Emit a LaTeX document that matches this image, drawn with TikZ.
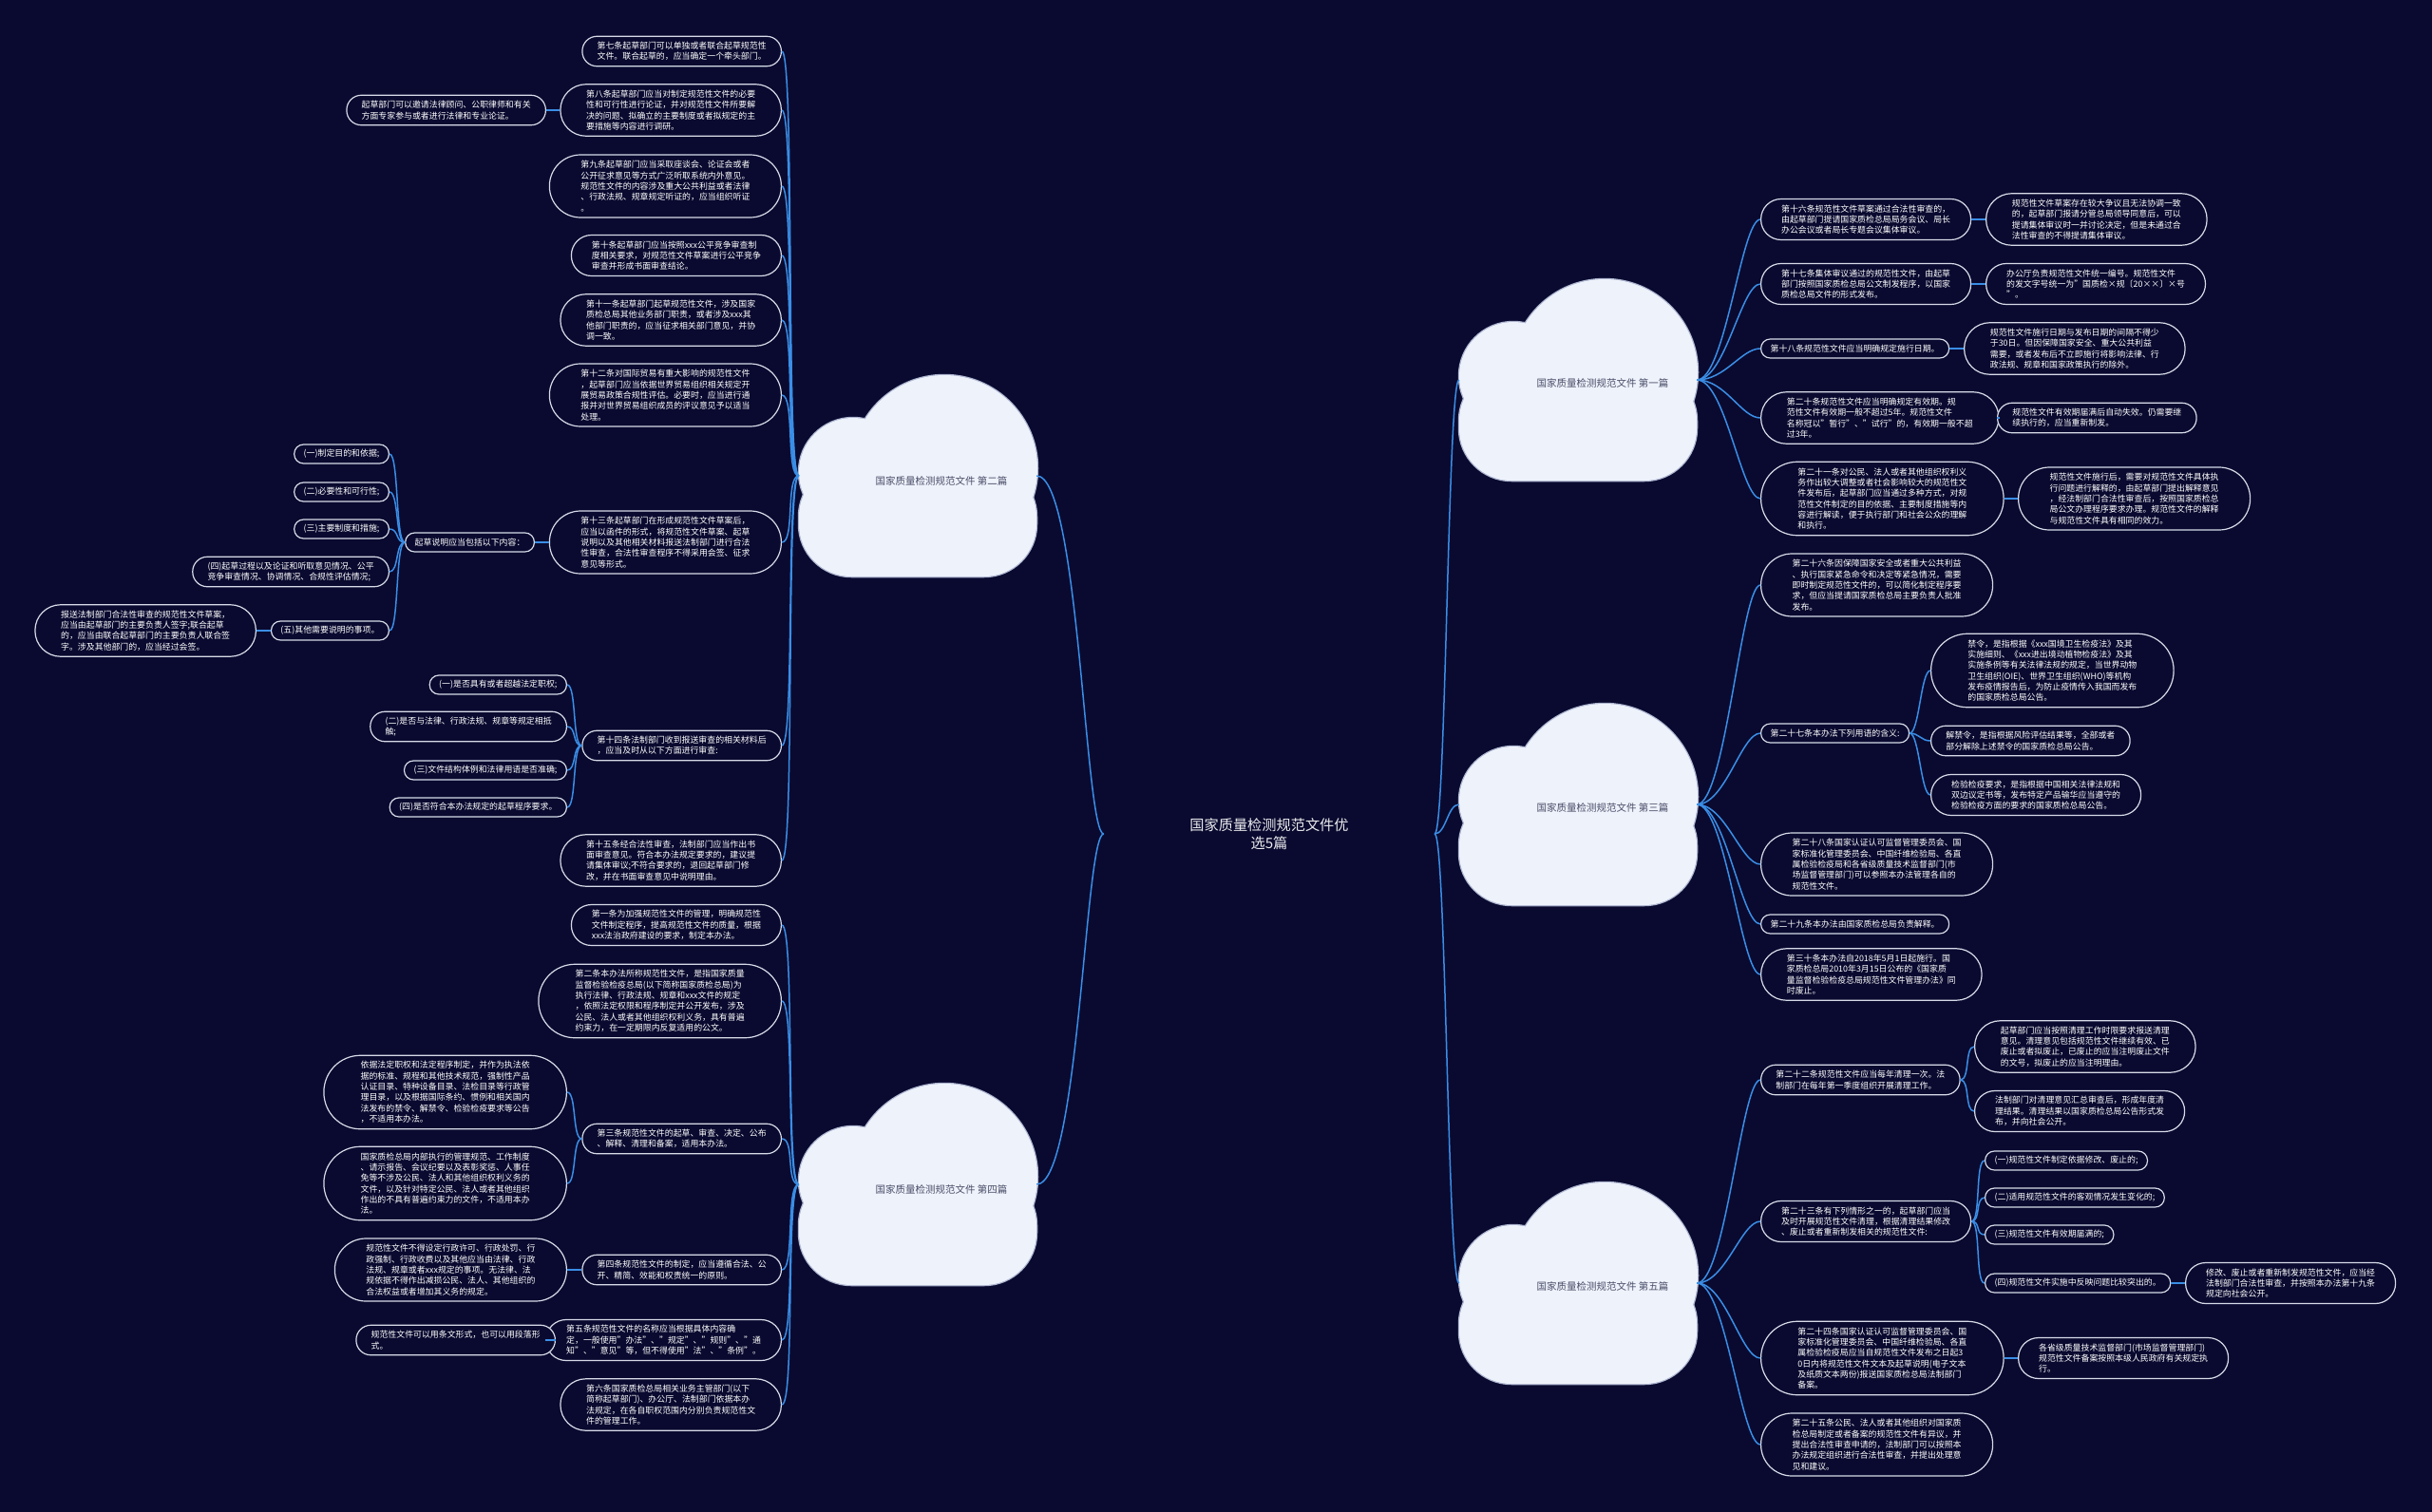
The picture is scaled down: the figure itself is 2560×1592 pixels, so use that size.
\documentclass[tikz,border=0pt]{standalone}
\usepackage{fontspec}
\setmainfont{Noto Sans CJK SC}
\definecolor{night}{HTML}{0A0A30}
\definecolor{wire}{HTML}{3A8EE6}
\definecolor{rim}{HTML}{D6DBE8}
\definecolor{puff}{HTML}{EEF2FB}
\definecolor{puffrim}{HTML}{AEB6D0}
\definecolor{ink}{HTML}{4A4E68}
\newcommand{\puff}[2]{%
  \begin{scope}[shift={(#1,#2)}]
    \draw[puffrim,line width=2.5pt,rounded corners=55pt] (-125,-12) rectangle (125,106);
    \draw[puffrim,line width=2.5pt] (28,-8) circle (98) (-68,-4) circle (57);
    \fill[puff,rounded corners=55pt] (-125,-12) rectangle (125,106);
    \fill[puff] (28,-8) circle (98) (-68,-4) circle (57);
  \end{scope}}
\begin{document}
\begin{tikzpicture}[x=1pt,y=-1pt,
  leaf/.style={rectangle,draw=rim,fill=night,line width=1.2pt,text=white,align=left,
    inner ysep=2pt,font=\fontsize{8.9}{11.33}\selectfont},
  ln/.style={minimum height=8.5pt+11.5pt*#1,inner xsep=4.25pt+5.75pt*#1,rounded corners=4pt+5.75pt*#1},
  lft/.style={leaf,ln=#1,anchor=east},
  rgt/.style={leaf,ln=#1,anchor=west},
  conn/.style={wire,line width=1.5pt},
  cloudbox/.style={minimum width=250pt,minimum height=212pt,inner sep=0pt},
  cloudtxt/.style={text=ink,font=\fontsize{10.5}{13}\selectfont},
  headline/.style={text=white!92!night,align=center,minimum width=348pt,font=\fontsize{15.2}{19.3}\selectfont}]
\useasboundingbox (0,0) rectangle (2560,1592);
\fill[night] (0,0) rectangle (2560,1592);

\puff{966}{501} \puff{966}{1247}
\puff{1661}{400} \puff{1661}{847} \puff{1661}{1351}
\node[cloudbox] (p2) at (966,501) {}; \node[cloudtxt] (p2t) at (991,506) {国家质量检测规范文件 第二篇};
\node[cloudbox] (p4) at (966,1247) {}; \node[cloudtxt] (p4t) at (991,1252) {国家质量检测规范文件 第四篇};
\node[cloudbox] (p1) at (1661,400) {}; \node[cloudtxt] (p1t) at (1687,403) {国家质量检测规范文件 第一篇};
\node[cloudbox] (p3) at (1661,847) {}; \node[cloudtxt] (p3t) at (1687,850) {国家质量检测规范文件 第三篇};
\node[cloudbox] (p5) at (1661,1351) {}; \node[cloudtxt] (p5t) at (1687,1354) {国家质量检测规范文件 第五篇};
\node[headline] (t) at (1336,878) {国家质量检测规范文件优\\选5篇};

\node[lft=2] (a7) at (823,54) {第七条起草部门可以单独或者联合起草规范性\\文件。联合起草的，应当确定一个牵头部门。};
\node[lft=4] (a8) at (823,116) {第八条起草部门应当对制定规范性文件的必要\\性和可行性进行论证，并对规范性文件所要解\\决的问题、拟确立的主要制度或者拟规定的主\\要措施等内容进行调研。};
\node[lft=2] (a8x) at (575,116) {起草部门可以邀请法律顾问、公职律师和有关\\方面专家参与或者进行法律和专业论证。};
\node[lft=5] (a9) at (823,196) {第九条起草部门应当采取座谈会、论证会或者\\公开征求意见等方式广泛听取系统内外意见。\\规范性文件的内容涉及重大公共利益或者法律\\、行政法规、规章规定听证的，应当组织听证\\。};
\node[lft=3] (a10) at (823,269) {第十条起草部门应当按照xxx公平竞争审查制\\度相关要求，对规范性文件草案进行公平竞争\\审查并形成书面审查结论。};
\node[lft=4] (a11) at (823,337) {第十一条起草部门起草规范性文件，涉及国家\\质检总局其他业务部门职责，或者涉及xxx其\\他部门职责的，应当征求相关部门意见，并协\\调一致。};
\node[lft=5] (a12) at (823,416) {第十二条对国际贸易有重大影响的规范性文件\\，起草部门应当依据世界贸易组织相关规定开\\展贸易政策合规性评估。必要时，应当进行通\\报并对世界贸易组织成员的评议意见予以适当\\处理。};
\node[lft=5] (a13) at (823,571) {第十三条起草部门在形成规范性文件草案后，\\应当以函件的形式，将规范性文件草案、起草\\说明以及其他相关材料报送法制部门进行合法\\性审查，合法性审查程序不得采用会签、征求\\意见等形式。};
\node[lft=1] (ash) at (563,571) {起草说明应当包括以下内容：};
\node[lft=1] (s1) at (410,478) {(一)制定目的和依据;};
\node[lft=1] (s2) at (410,518) {(二)必要性和可行性;};
\node[lft=1] (s3) at (410,557) {(三)主要制度和措施;};
\node[lft=2] (s4) at (410,602) {(四)起草过程以及论证和听取意见情况、公平\\竞争审查情况、协调情况、合规性评估情况;};
\node[lft=1] (s5) at (410,664) {(五)其他需要说明的事项。};
\node[lft=4] (s5x) at (270,664) {报送法制部门合法性审查的规范性文件草案，\\应当由起草部门的主要负责人签字;联合起草\\的，应当由联合起草部门的主要负责人联合签\\字。涉及其他部门的，应当经过会签。};
\node[lft=2] (a14) at (823,785) {第十四条法制部门收到报送审查的相关材料后\\，应当及时从以下方面进行审查:};
\node[lft=1] (r1) at (597,721) {(一)是否具有或者超越法定职权;};
\node[lft=2] (r2) at (597,765) {(二)是否与法律、行政法规、规章等规定相抵\\触;};
\node[lft=1] (r3) at (597,811) {(三)文件结构体例和法律用语是否准确;};
\node[lft=1] (r4) at (597,850) {(四)是否符合本办法规定的起草程序要求。};
\node[lft=4] (a15) at (823,906) {第十五条经合法性审查，法制部门应当作出书\\面审查意见。符合本办法规定要求的，建议提\\请集体审议;不符合要求的，退回起草部门修\\改，并在书面审查意见中说明理由。};

\node[lft=3] (b1) at (823,974) {第一条为加强规范性文件的管理，明确规范性\\文件制定程序，提高规范性文件的质量，根据\\xxx法治政府建设的要求，制定本办法。};
\node[lft=6] (b2) at (823,1054) {第二条本办法所称规范性文件，是指国家质量\\监督检验检疫总局(以下简称国家质检总局)为\\执行法律、行政法规、规章和xxx文件的规定\\，依照法定权限和程序制定并公开发布，涉及\\公民、法人或者其他组织权利义务，具有普遍\\约束力，在一定期限内反复适用的公文。};
\node[lft=2] (b3) at (823,1199) {第三条规范性文件的起草、审查、决定、公布\\、解释、清理和备案，适用本办法。};
\node[lft=6] (b3a) at (597,1150) {依据法定职权和法定程序制定，并作为执法依\\据的标准、规程和其他技术规范，强制性产品\\认证目录、特种设备目录、法检目录等行政管\\理目录，以及根据国际条约、惯例和相关国内\\法发布的禁令、解禁令、检验检疫要求等公告\\，不适用本办法。};
\node[lft=6] (b3b) at (597,1246) {国家质检总局内部执行的管理规范、工作制度\\、请示报告、会议纪要以及表彰奖惩、人事任\\免等不涉及公民、法人和其他组织权利义务的\\文件，以及针对特定公民、法人或者其他组织\\作出的不具有普遍约束力的文件，不适用本办\\法。};
\node[lft=2] (b4) at (823,1337) {第四条规范性文件的制定，应当遵循合法、公\\开、精简、效能和权责统一的原则。};
\node[lft=5] (b4a) at (597,1337) {规范性文件不得设定行政许可、行政处罚、行\\政强制、行政收费以及其他应当由法律、行政\\法规、规章或者xxx规定的事项。无法律、法\\规依据不得作出减损公民、法人、其他组织的\\合法权益或者增加其义务的规定。};
\node[lft=3] (b5) at (823,1411) {第五条规范性文件的名称应当根据具体内容确\\定，一般使用"办法"、"规定"、"规则"、"通\\知"、"意见"等，但不得使用"法"、"条例"。};
\node[lft=2] (b5a) at (585,1411) {规范性文件可以用条文形式，也可以用段落形\\式。};
\node[lft=4] (b6) at (823,1479) {第六条国家质检总局相关业务主管部门(以下\\简称起草部门)、办公厅、法制部门依据本办\\法规定，在各自职权范围内分别负责规范性文\\件的管理工作。};

\node[rgt=3] (c16) at (1853,231) {第十六条规范性文件草案通过合法性审查的，\\由起草部门提请国家质检总局局务会议、局长\\办公会议或者局长专题会议集体审议。};
\node[rgt=4] (c16a) at (2090,231) {规范性文件草案存在较大争议且无法协调一致\\的，起草部门报请分管总局领导同意后，可以\\提请集体审议时一并讨论决定，但是未通过合\\法性审查的不得提请集体审议。};
\node[rgt=3] (c17) at (1853,299) {第十七条集体审议通过的规范性文件，由起草\\部门按照国家质检总局公文制发程序，以国家\\质检总局文件的形式发布。};
\node[rgt=3] (c17a) at (2090,299) {办公厅负责规范性文件统一编号。规范性文件\\的发文字号统一为"国质检×规〔20××〕×号\\"。};
\node[rgt=1] (c18) at (1853,367) {第十八条规范性文件应当明确规定施行日期。};
\node[rgt=4] (c18a) at (2067,367) {规范性文件施行日期与发布日期的间隔不得少\\于30日。但因保障国家安全、重大公共利益\\需要，或者发布后不立即施行将影响法律、行\\政法规、规章和国家政策执行的除外。};
\node[rgt=4] (c20) at (1853,440) {第二十条规范性文件应当明确规定有效期。规\\范性文件有效期一般不超过5年。规范性文件\\名称冠以"暂行"、"试行"的，有效期一般不超\\过3年。};
\node[rgt=2] (c20a) at (2102,440) {规范性文件有效期届满后自动失效。仍需要继\\续执行的，应当重新制发。};
\node[rgt=6] (c21) at (1853,525) {第二十一条对公民、法人或者其他组织权利义\\务作出较大调整或者社会影响较大的规范性文\\件发布后，起草部门应当通过多种方式，对规\\范性文件制定的目的依据、主要制度措施等内\\容进行解读，便于执行部门和社会公众的理解\\和执行。};
\node[rgt=5] (c21a) at (2124,525) {规范性文件施行后，需要对规范性文件具体执\\行问题进行解释的，由起草部门提出解释意见\\，经法制部门合法性审查后，按照国家质检总\\局公文办理程序要求办理。规范性文件的解释\\与规范性文件具有相同的效力。};

\node[rgt=5] (d26) at (1853,616) {第二十六条因保障国家安全或者重大公共利益\\、执行国家紧急命令和决定等紧急情况，需要\\即时制定规范性文件的，可以简化制定程序要\\求，但应当提请国家质检总局主要负责人批准\\发布。};
\node[rgt=1] (d27) at (1853,772) {第二十七条本办法下列用语的含义:};
\node[rgt=6] (d27a) at (2032,706) {禁令，是指根据《xxx国境卫生检疫法》及其\\实施细则、《xxx进出境动植物检疫法》及其\\实施条例等有关法律法规的规定，当世界动物\\卫生组织(OIE)、世界卫生组织(WHO)等机构\\发布疫情报告后，为防止疫情传入我国而发布\\的国家质检总局公告。};
\node[rgt=2] (d27b) at (2032,780) {解禁令，是指根据风险评估结果等，全部或者\\部分解除上述禁令的国家质检总局公告。};
\node[rgt=3] (d27c) at (2032,837) {检验检疫要求，是指根据中国相关法律法规和\\双边议定书等，发布特定产品输华应当遵守的\\检验检疫方面的要求的国家质检总局公告。};
\node[rgt=5] (d28) at (1853,910) {第二十八条国家认证认可监督管理委员会、国\\家标准化管理委员会、中国纤维检验局、各直\\属检验检疫局和各省级质量技术监督部门(市\\场监督管理部门)可以参照本办法管理各自的\\规范性文件。};
\node[rgt=1] (d29) at (1853,973) {第二十九条本办法由国家质检总局负责解释。};
\node[rgt=4] (d30) at (1853,1026) {第三十条本办法自2018年5月1日起施行。国\\家质检总局2010年3月15日公布的《国家质\\量监督检验检疫总局规范性文件管理办法》同\\时废止。};

\node[rgt=2] (e22) at (1853,1137) {第二十二条规范性文件应当每年清理一次。法\\制部门在每年第一季度组织开展清理工作。};
\node[rgt=4] (e22a) at (2078,1102) {起草部门应当按照清理工作时限要求报送清理\\意见。清理意见包括规范性文件继续有效、已\\废止或者拟废止，已废止的应当注明废止文件\\的文号，拟废止的应当注明理由。};
\node[rgt=3] (e22b) at (2078,1170) {法制部门对清理意见汇总审查后，形成年度清\\理结果。清理结果以国家质检总局公告形式发\\布，并向社会公开。};
\node[rgt=3] (e23) at (1853,1286) {第二十三条有下列情形之一的，起草部门应当\\及时开展规范性文件清理，根据清理结果修改\\、废止或者重新制发相关的规范性文件:};
\node[rgt=1] (e23a) at (2089,1222) {(一)规范性文件制定依据修改、废止的;};
\node[rgt=1] (e23b) at (2089,1261) {(二)适用规范性文件的客观情况发生变化的;};
\node[rgt=1] (e23c) at (2089,1300) {(三)规范性文件有效期届满的;};
\node[rgt=1] (e23d) at (2089,1351) {(四)规范性文件实施中反映问题比较突出的。};
\node[rgt=3] (e23x) at (2300,1351) {修改、废止或者重新制发规范性文件，应当经\\法制部门合法性审查，并按照本办法第十九条\\规定向社会公开。};
\node[rgt=6] (e24) at (1853,1430) {第二十四条国家认证认可监督管理委员会、国\\家标准化管理委员会、中国纤维检验局、各直\\属检验检疫局应当自规范性文件发布之日起3\\0日内将规范性文件文本及起草说明(电子文本\\及纸质文本两份)报送国家质检总局法制部门\\备案。};
\node[rgt=3] (e24a) at (2124,1430) {各省级质量技术监督部门(市场监督管理部门)\\规范性文件备案按照本级人民政府有关规定执\\行。};
\node[rgt=5] (e25) at (1853,1521) {第二十五条公民、法人或者其他组织对国家质\\检总局制定或者备案的规范性文件有异议，并\\提出合法性审查申请的，法制部门可以按照本\\办法规定组织进行合法性审查，并提出处理意\\见和建议。};

\foreach \n in {p2,p4} \draw[conn] (t.west) .. controls +(-20,0) and +(45,0) .. (\n.east);
\foreach \n in {p1,p3,p5} \draw[conn] (t.east) .. controls +(12,0) and +(-12,0) .. (\n.west);
\foreach \n in {a7,a8,a9,a10,a11,a12,a13,a14,a15} \draw[conn] (p2.west) .. controls +(-14,0) and +(14,0) .. (\n.east);
\foreach \n in {b1,b2,b3,b4,b5,b6} \draw[conn] (p4.west) .. controls +(-14,0) and +(14,0) .. (\n.east);
\foreach \n in {c16,c17,c18,c20,c21} \draw[conn] (p1.east) .. controls +(30,0) and +(-20,0) .. (\n.west);
\foreach \n in {d26,d27,d28,d29,d30} \draw[conn] (p3.east) .. controls +(30,0) and +(-20,0) .. (\n.west);
\foreach \n in {e22,e23,e24,e25} \draw[conn] (p5.east) .. controls +(30,0) and +(-20,0) .. (\n.west);
\foreach \n in {s1,s2,s3,s4,s5} \draw[conn] (ash.west) .. controls +(-10,0) and +(10,0) .. (\n.east);
\foreach \n in {r1,r2,r3,r4} \draw[conn] (a14.west) .. controls +(-10,0) and +(10,0) .. (\n.east);
\foreach \n in {b3a,b3b} \draw[conn] (b3.west) .. controls +(-10,0) and +(10,0) .. (\n.east);
\foreach \n in {d27a,d27b,d27c} \draw[conn] (d27.east) .. controls +(10,0) and +(-10,0) .. (\n.west);
\foreach \n in {e22a,e22b} \draw[conn] (e22.east) .. controls +(10,0) and +(-10,0) .. (\n.west);
\foreach \n in {e23a,e23b,e23c,e23d} \draw[conn] (e23.east) .. controls +(10,0) and +(-10,0) .. (\n.west);
\draw[conn] (a8.west) -- (a8x.east);
\draw[conn] (a13.west) -- (ash.east);
\draw[conn] (s5.west) -- (s5x.east);
\draw[conn] (b4.west) -- (b4a.east);
\draw[conn] (b5.west) -- (b5a.east);
\foreach \n in {c16,c17,c18,c20,c21} \draw[conn] (\n.east) -- (\n a.west);
\draw[conn] (e23d.east) -- (e23x.west);
\draw[conn] (e24.east) -- (e24a.west);
\end{tikzpicture}
\end{document}
